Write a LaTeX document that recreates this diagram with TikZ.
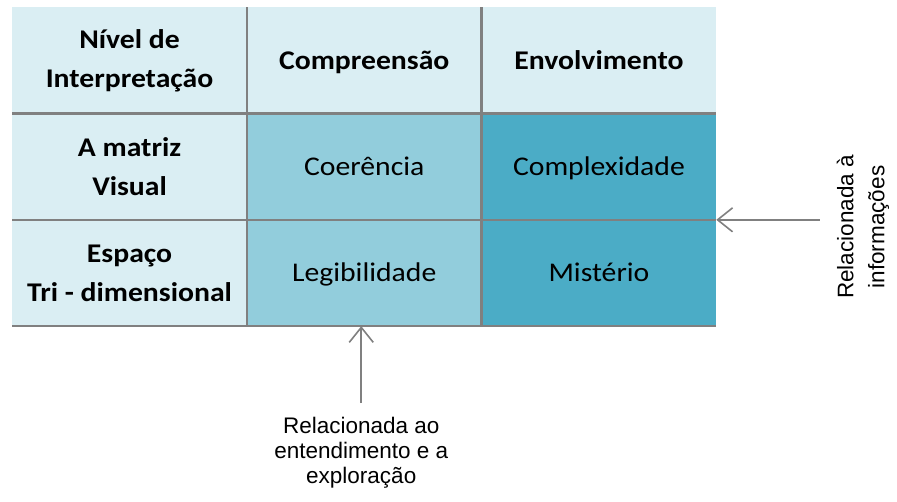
\documentclass[tikz,border=0pt]{standalone}
\usepackage{fontspec}
\setmainfont[FakeStretch=1.1]{Carlito}
\newfontfamily\arialfont{Liberation Sans}
\usetikzlibrary{matrix,positioning,arrows.meta}
\definecolor{hdrblue}{HTML}{DAEEF3}
\definecolor{midblue}{HTML}{92CDDC}
\definecolor{deepblue}{HTML}{4BACC6}
\definecolor{rulegray}{HTML}{808080}

\begin{document}
\begin{tikzpicture}[x=1pt,y=-1pt,
  cell/.style={minimum width=234.7pt,minimum height=106.3pt,inner sep=0pt,outer sep=0pt,
    align=center,font=\fontsize{27}{39}\selectfont},
  oneline/.style={text height=22pt,text depth=4.6pt},
  hdr/.style={cell,fill=hdrblue,font=\fontsize{27}{39}\selectfont\bfseries},
  mid/.style={cell,oneline,fill=midblue},
  deep/.style={cell,oneline,fill=deepblue},
  grid/.style={draw=rulegray,line width=2.5pt},
  note/.style={font=\arialfont\fontsize{22.5}{25}\selectfont,align=center},
  ptr/.style={draw=rulegray,line width=1.6pt,-{Straight Barb[length=15pt,width=24pt]}}]
  \useasboundingbox (0,0) rectangle (897,501);
  \matrix (m) [row sep=0pt, column sep=0pt, inner sep=0pt, anchor=north west] at (12,7) {
    \node[hdr] (m-1-1) {Nível de\\Interpretação}; & \node[hdr,oneline] (m-1-2) {Compreensão}; & \node[hdr,oneline] (m-1-3) {Envolvimento}; \\
    \node[hdr] (m-2-1) {A matriz\\Visual}; & \node[mid] (m-2-2) {Coerência}; & \node[deep] (m-2-3) {Complexidade}; \\
    \node[hdr] (m-3-1) {Espaço\\Tri - dimensional}; & \node[mid] (m-3-2) {Legibilidade}; & \node[deep] (m-3-3) {Mistério}; \\
  };
  % grid lines
  \draw[grid]
    (m-1-2.north west) -- (m-3-2.south west)
    (m-1-3.north west) -- (m-3-3.south west)
    (m-2-1.north west) -- (m-2-3.north east)
    (m-3-1.north west) -- (m-3-3.north east)
    (m-3-1.south west) -- (m-3-3.south east);
  % annotations
  \node[note,inner sep=14pt,below=77pt of m-3-2,xshift=-3pt] (expl) {Relacionada ao\\entendimento e a\\exploração};
  \node[note,rotate=90,inner sep=17pt,font=\arialfont\fontsize{22.5}{31}\selectfont] (info) at (863,227) {Relacionada à\\informações};
  \draw[ptr] (info.north |- m-3-3.north east) -- (m-3-3.north east);
  \draw[ptr] (expl.north) -- (expl.north |- m-3-2.south);
\end{tikzpicture}
\end{document}
